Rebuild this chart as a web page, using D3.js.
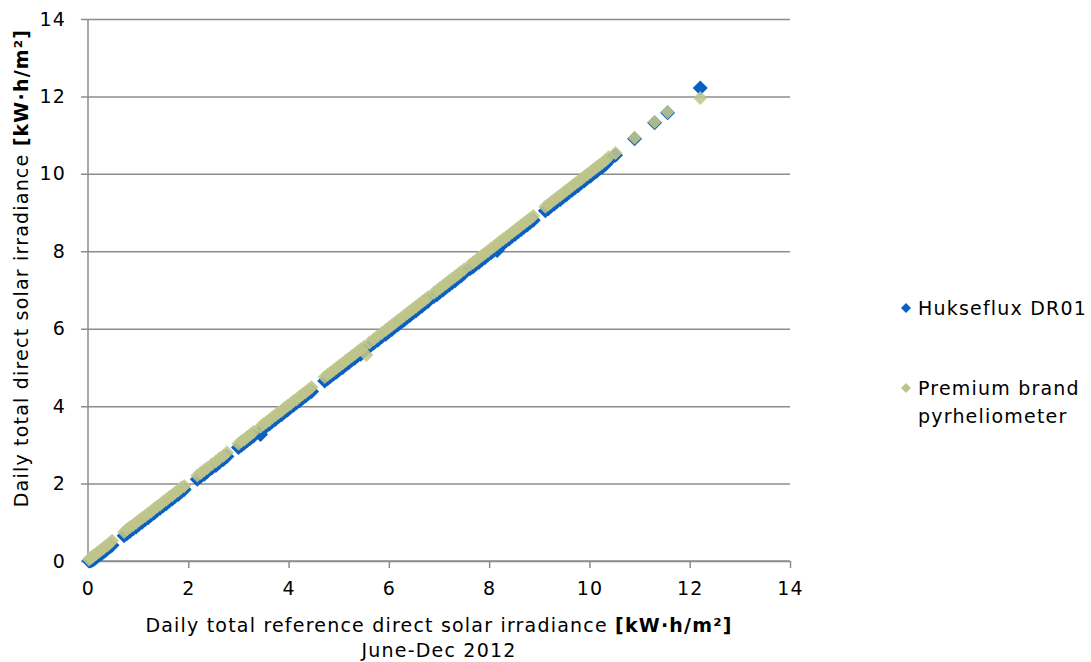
<!DOCTYPE html>
<html>
<head>
<meta charset="utf-8">
<script src="https://cdn.jsdelivr.net/npm/d3@7"></script>
<style>
  body { margin: 0; background: #fff; }
  text { font-family: "DejaVu Sans", Verdana, sans-serif; fill: #000; letter-spacing: 1.2px; }
</style>
</head>
<body>
<script>
// reference daily totals (x axis)
var refX = [
  0.02, 0.05, 0.08, 0.11, 0.15, 0.19, 0.23, 0.27, 0.31, 0.35, 0.39, 0.44, 0.48,
  0.72, 0.78, 0.84, 0.90, 0.96, 1.02, 1.08, 1.14, 1.20, 1.26, 1.32, 1.38, 1.44, 1.50, 1.56, 1.62, 1.68, 1.74, 1.80, 1.86, 1.92,
  2.18, 2.25, 2.32, 2.38,
  2.47, 2.55, 2.62, 2.70, 2.77,
  3.00, 3.06, 3.12, 3.18, 3.24, 3.30, 3.44, 3.50, 3.56, 3.62, 3.68, 3.74, 3.80, 3.86, 3.92, 3.98, 4.04, 4.10, 4.16, 4.22, 4.28, 4.34, 4.40, 4.46,
  4.72, 4.78, 4.84, 4.90, 4.96, 5.02, 5.08, 5.14, 5.20, 5.26, 5.32, 5.38, 5.44, 5.50, 5.55,
  5.62, 5.70, 5.78, 5.86, 5.94, 6.00, 6.06, 6.12, 6.18, 6.24, 6.30, 6.36, 6.42, 6.48, 6.54, 6.60, 6.66, 6.72, 6.78,
  6.90, 6.96, 7.02, 7.08, 7.14, 7.20, 7.26, 7.32, 7.38, 7.44, 7.50, 7.62, 7.68, 7.74, 7.80, 7.86, 7.92, 7.98, 8.04, 8.10, 8.16, 8.22, 8.28, 8.34, 8.40, 8.46, 8.52, 8.58, 8.64, 8.70, 8.76, 8.82, 8.88,
  9.12, 9.18, 9.24, 9.30, 9.36, 9.42, 9.48, 9.54, 9.60, 9.66, 9.72, 9.78, 9.84, 9.90, 9.96, 10.02, 10.08, 10.14, 10.20, 10.26, 10.32, 10.38, 10.52,
  10.90, 11.30, 11.56, 12.21
];

// Hukseflux DR01
var hukseflux = [
  0.00, 0.00, 0.02, 0.04, 0.08, 0.12, 0.16, 0.19, 0.24, 0.27, 0.32, 0.37, 0.41,
  0.65, 0.71, 0.77, 0.83, 0.88, 0.95, 1.00, 1.07, 1.12, 1.19, 1.24, 1.31, 1.36, 1.43, 1.48, 1.55, 1.60, 1.67, 1.72, 1.79, 1.85,
  2.11, 2.18, 2.24, 2.31,
  2.40, 2.47, 2.55, 2.62, 2.70,
  2.93, 2.99, 3.05, 3.11, 3.17, 3.23, 3.27, 3.43, 3.49, 3.54, 3.61, 3.66, 3.73, 3.78, 3.85, 3.90, 3.97, 4.02, 4.09, 4.14, 4.21, 4.26, 4.33, 4.38,
  4.65, 4.71, 4.77, 4.83, 4.88, 4.95, 5.00, 5.07, 5.12, 5.19, 5.24, 5.31, 5.34, 5.43, 5.48,
  5.55, 5.63, 5.70, 5.79, 5.86, 5.93, 5.98, 6.05, 6.10, 6.17, 6.22, 6.29, 6.34, 6.41, 6.46, 6.53, 6.58, 6.65, 6.70,
  6.83, 6.88, 6.95, 7.00, 7.07, 7.12, 7.19, 7.24, 7.31, 7.36, 7.43, 7.55, 7.60, 7.67, 7.72, 7.79, 7.84, 7.91, 7.96, 8.03, 8.02, 8.13, 8.20, 8.27, 8.32, 8.39, 8.44, 8.51, 8.56, 8.63, 8.68, 8.75, 8.80,
  9.05, 9.10, 9.17, 9.22, 9.29, 9.34, 9.41, 9.46, 9.53, 9.58, 9.65, 9.70, 9.77, 9.82, 9.89, 9.94, 10.01, 10.06, 10.13, 10.18, 10.25, 10.33, 10.48,
  10.91, 11.32, 11.58, 12.22
];

// Premium brand pyrheliometer
var premium = [
  0.04, 0.08, 0.10, 0.14, 0.17, 0.22, 0.25, 0.30, 0.33, 0.38, 0.41, 0.47, 0.52,
  0.75, 0.82, 0.88, 0.93, 0.99, 1.05, 1.11, 1.16, 1.23, 1.28, 1.35, 1.41, 1.46, 1.53, 1.58, 1.65, 1.70, 1.77, 1.82, 1.89, 1.94,
  2.21, 2.27, 2.35, 2.40,
  2.50, 2.57, 2.65, 2.72, 2.80,
  3.03, 3.09, 3.14, 3.21, 3.27, 3.33, 3.47, 3.53, 3.59, 3.64, 3.71, 3.77, 3.83, 3.88, 3.95, 4.01, 4.06, 4.13, 4.18, 4.25, 4.31, 4.36, 4.43, 4.49,
  4.75, 4.81, 4.87, 4.93, 4.99, 5.05, 5.11, 5.17, 5.23, 5.29, 5.35, 5.41, 5.47, 5.53, 5.32,
  5.65, 5.73, 5.81, 5.89, 5.97, 6.03, 6.09, 6.15, 6.21, 6.27, 6.33, 6.39, 6.45, 6.51, 6.57, 6.63, 6.69, 6.75, 6.81,
  6.93, 6.99, 7.05, 7.11, 7.17, 7.23, 7.29, 7.35, 7.41, 7.47, 7.53, 7.65, 7.71, 7.77, 7.83, 7.89, 7.95, 8.01, 8.07, 8.13, 8.19, 8.25, 8.31, 8.37, 8.43, 8.49, 8.55, 8.61, 8.67, 8.73, 8.79, 8.85, 8.91,
  9.15, 9.21, 9.27, 9.33, 9.39, 9.45, 9.51, 9.57, 9.63, 9.69, 9.75, 9.81, 9.87, 9.93, 9.99, 10.05, 10.11, 10.17, 10.23, 10.29, 10.35, 10.43, 10.54,
  10.93, 11.34, 11.60, 11.96
];

var xTicks = [0, 2, 4, 6, 8, 10, 12, 14];
var yTicks = [0, 2, 4, 6, 8, 10, 12, 14];

var seriesNames = ["Hukseflux DR01", "Premium brand pyrheliometer"];
var seriesColors = ["#0a60c2", "#bfc58a"];

var width = 1091, height = 662;
var margin = {top: 19, right: 301, bottom: 101, left: 88};
var plotW = width - margin.left - margin.right,
    plotH = height - margin.top - margin.bottom;

var svg = d3.select("body").append("svg")
    .attr("width", width)
    .attr("height", height);

var g = svg.append("g")
    .attr("transform", "translate(" + margin.left + "," + margin.top + ")");

var x = d3.scaleLinear().domain([0, 14]).range([0, plotW]);
var y = d3.scaleLinear().domain([0, 14]).range([plotH, 0]);

// horizontal gridlines (with outside tick stubs)
g.append("g")
    .attr("class", "grid")
    .call(d3.axisLeft(y).tickValues(yTicks).tickSize(-plotW).tickFormat(""))
    .call(function(s) { s.select(".domain").remove(); })
    .selectAll("line")
    .attr("x1", -7)
    .attr("stroke", "#8c8c8c")
    .attr("stroke-width", 1.5);

// y axis
var yAxis = g.append("g")
    .call(d3.axisLeft(y).tickValues(yTicks).tickSize(7).tickPadding(15));
yAxis.select(".domain").attr("stroke", "#8c8c8c").attr("stroke-width", 1.5).attr("d", "M0,0V" + plotH);
yAxis.selectAll(".tick line").remove();
yAxis.selectAll("text").style("font-size", "19px");

// x axis
var xAxis = g.append("g")
    .attr("transform", "translate(0," + plotH + ")")
    .call(d3.axisBottom(x).tickValues(xTicks).tickSize(7).tickPadding(14));
xAxis.select(".domain").attr("stroke", "#8c8c8c").attr("stroke-width", 1.5).attr("d", "M0,0H" + plotW);
xAxis.selectAll(".tick line").attr("stroke", "#8c8c8c").attr("stroke-width", 1.5);
xAxis.selectAll("text").style("font-size", "19px");

var diamond = function(r) {
  return "M0," + (-r) + "L" + r + ",0L0," + r + "L" + (-r) + ",0Z";
};

var pts = refX.map(function(v, i) { return {x: v, h: hukseflux[i], p: premium[i]}; });

// blue series first, green on top
g.append("g").selectAll("path")
    .data(pts)
    .enter().append("path")
    .attr("d", diamond(7.5))
    .attr("transform", function(d) { return "translate(" + x(d.x) + "," + y(d.h) + ")"; })
    .attr("fill", seriesColors[0]);

g.append("g").selectAll("path")
    .data(pts)
    .enter().append("path")
    .attr("d", diamond(7))
    .attr("transform", function(d) { return "translate(" + x(d.x) + "," + y(d.p) + ")"; })
    .attr("fill", seriesColors[1])
    .attr("fill-opacity", 0.88);

// axis titles
var xt = svg.append("text")
    .attr("x", margin.left + plotW / 2)
    .attr("y", 632)
    .attr("text-anchor", "middle")
    .style("font-size", "19px");
xt.append("tspan").text("Daily total reference direct solar irradiance ");
xt.append("tspan").style("font-weight", "bold").text("[kW·h/m²]");

svg.append("text")
    .attr("x", margin.left + plotW / 2)
    .attr("y", 657)
    .attr("text-anchor", "middle")
    .style("font-size", "19px")
    .text("June-Dec 2012");

var yt = svg.append("text")
    .attr("transform", "translate(28,268) rotate(-90)")
    .attr("text-anchor", "middle")
    .style("font-size", "19px");
yt.append("tspan").text("Daily total direct solar irradiance ");
yt.append("tspan").style("font-weight", "bold").text("[kW·h/m²]");

// legend
var legend = svg.append("g").attr("transform", "translate(906,0)");
var legendRows = [
  {y: 308, lines: ["Hukseflux DR01"]},
  {y: 388, lines: ["Premium brand", "pyrheliometer"]}
];
legendRows.forEach(function(row, i) {
  legend.append("path")
      .attr("d", diamond(5))
      .attr("transform", "translate(0," + row.y + ")")
      .attr("fill", seriesColors[i]);
  row.lines.forEach(function(t, j) {
    legend.append("text")
        .attr("x", 12)
        .attr("y", row.y + j * 28)
        .attr("dy", "0.35em")
        .style("font-size", "19px")
        .text(t);
  });
});
</script>
</body>
</html>
